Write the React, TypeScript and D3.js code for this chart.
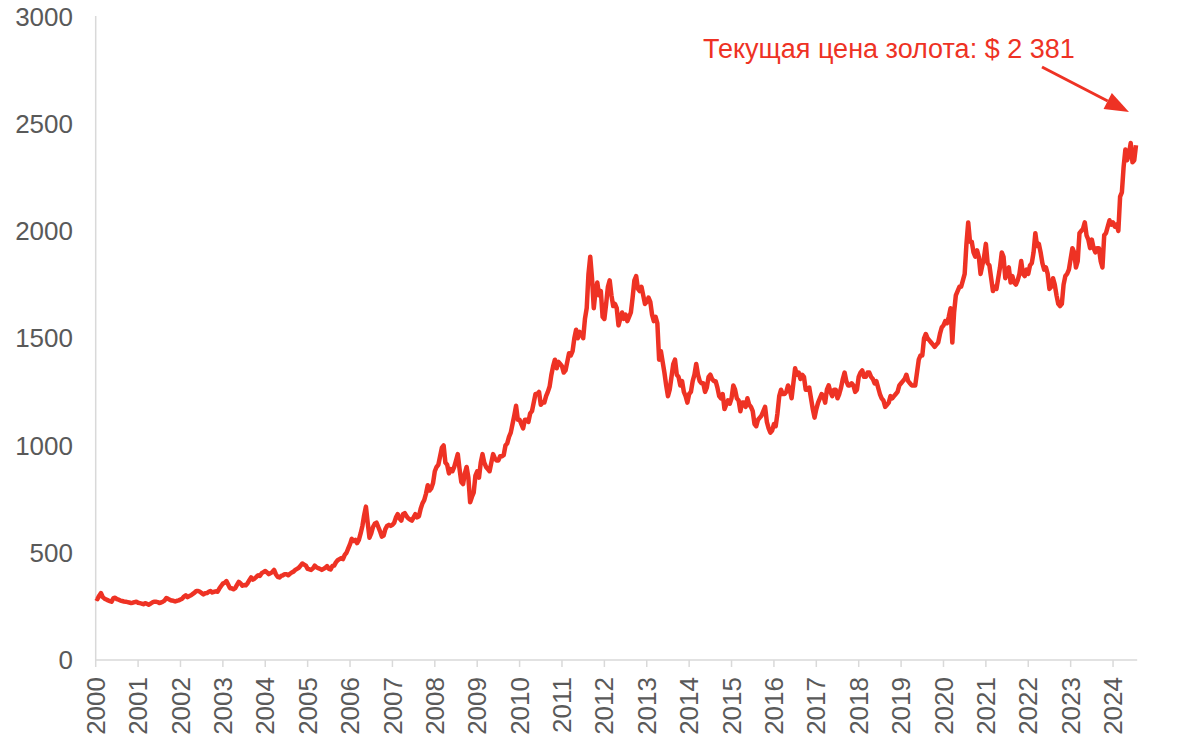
import React from "react";
import * as d3 from "d3";

// Semi-monthly gold price (USD/oz)
const p2000 = [289, 284, 300, 312, 293, 286, 282, 278, 275, 272, 288, 290, 284, 281, 277, 275, 273, 272, 270, 268, 266, 267, 270, 272];
const p2001 = [267, 265, 263, 260, 265, 262, 258, 262, 268, 272, 272, 270, 266, 268, 272, 277, 289, 285, 280, 277, 276, 273, 276, 278];
const p2002 = [282, 286, 296, 302, 293, 298, 302, 308, 314, 322, 322, 318, 312, 306, 311, 312, 318, 322, 315, 318, 320, 318, 333, 345];
const p2003 = [356, 360, 368, 352, 335, 334, 330, 335, 350, 364, 358, 346, 350, 348, 358, 372, 385, 375, 380, 388, 395, 392, 405, 410];
const p2004 = [415, 408, 400, 405, 410, 420, 400, 388, 385, 392, 395, 400, 400, 395, 402, 408, 412, 420, 425, 430, 440, 450, 445, 440];
const p2005 = [425, 423, 420, 427, 440, 432, 428, 425, 420, 425, 430, 438, 425, 422, 438, 440, 455, 465, 470, 475, 470, 490, 500, 520];
const p2006 = [540, 565, 555, 560, 545, 560, 590, 625, 675, 715, 640, 570, 590, 620, 635, 640, 620, 600, 575, 580, 610, 625, 630, 625];
const p2007 = [630, 640, 665, 680, 660, 650, 680, 685, 670, 660, 655, 650, 665, 680, 665, 670, 705, 730, 745, 775, 815, 790, 800, 825];
const p2008 = [880, 900, 910, 950, 990, 1000, 920, 910, 870, 890, 880, 900, 930, 960, 890, 830, 820, 870, 900, 850, 735, 760, 780, 860];
const p2009 = [880, 850, 920, 960, 920, 900, 890, 880, 920, 960, 940, 930, 930, 950, 950, 955, 1000, 1010, 1040, 1060, 1100, 1140, 1185, 1120];
const p2010 = [1120, 1100, 1080, 1120, 1120, 1110, 1150, 1160, 1200, 1240, 1240, 1250, 1190, 1200, 1200, 1230, 1250, 1275, 1330, 1370, 1400, 1360, 1390, 1380];
const p2011 = [1370, 1340, 1350, 1390, 1430, 1420, 1440, 1500, 1540, 1500, 1530, 1520, 1500, 1590, 1640, 1800, 1880, 1780, 1640, 1720, 1760, 1700, 1720, 1600];
const p2012 = [1590, 1660, 1740, 1770, 1700, 1650, 1660, 1640, 1560, 1590, 1620, 1590, 1610, 1580, 1600, 1620, 1690, 1770, 1790, 1730, 1720, 1740, 1700, 1660];
const p2013 = [1670, 1690, 1670, 1610, 1580, 1600, 1570, 1400, 1440, 1390, 1340, 1280, 1230, 1260, 1320, 1380, 1400, 1330, 1320, 1280, 1300, 1250, 1230, 1200];
const p2014 = [1240, 1250, 1300, 1330, 1380, 1330, 1300, 1290, 1290, 1250, 1270, 1320, 1330, 1310, 1300, 1300, 1270, 1230, 1220, 1240, 1170, 1190, 1210, 1195];
const p2015 = [1220, 1280, 1260, 1220, 1210, 1160, 1200, 1200, 1180, 1220, 1190, 1180, 1160, 1100, 1090, 1120, 1130, 1140, 1160, 1180, 1110, 1080, 1060, 1070];
const p2016 = [1100, 1090, 1150, 1230, 1260, 1240, 1240, 1250, 1280, 1260, 1220, 1290, 1360, 1330, 1340, 1310, 1330, 1320, 1260, 1260, 1270, 1220, 1170, 1130];
const p2017 = [1170, 1200, 1220, 1240, 1230, 1200, 1260, 1280, 1250, 1230, 1260, 1260, 1220, 1240, 1270, 1310, 1340, 1300, 1280, 1280, 1290, 1280, 1250, 1260];
const p2018 = [1320, 1340, 1350, 1320, 1320, 1340, 1340, 1320, 1310, 1290, 1300, 1270, 1240, 1220, 1210, 1180, 1190, 1200, 1230, 1220, 1230, 1240, 1250, 1280];
const p2019 = [1290, 1300, 1310, 1330, 1300, 1290, 1280, 1280, 1280, 1340, 1400, 1420, 1420, 1500, 1520, 1500, 1490, 1480, 1470, 1460, 1470, 1480, 1520, 1550];
const p2020 = [1560, 1580, 1570, 1600, 1640, 1480, 1620, 1700, 1720, 1740, 1740, 1770, 1800, 1940, 2040, 1950, 1950, 1900, 1880, 1910, 1880, 1800, 1840, 1880];
const p2021 = [1940, 1850, 1840, 1780, 1720, 1740, 1730, 1780, 1830, 1900, 1880, 1780, 1820, 1830, 1760, 1790, 1760, 1750, 1770, 1800, 1860, 1800, 1790, 1820];
const p2022 = [1800, 1840, 1850, 1900, 1990, 1930, 1940, 1900, 1850, 1820, 1830, 1800, 1730, 1740, 1780, 1750, 1700, 1660, 1650, 1660, 1750, 1790, 1800, 1820];
const p2023 = [1870, 1920, 1900, 1830, 1860, 1990, 2000, 2010, 2040, 1980, 1960, 1920, 1960, 1920, 1900, 1920, 1920, 1860, 1830, 1980, 1990, 2020, 2050, 2030];
const p2024 = [2040, 2020, 2030, 2000, 2160, 2180, 2300, 2380, 2330, 2360, 2410, 2320, 2330, 2400];

const yearStarts = [2000, 2001, 2002, 2003, 2004, 2005, 2006, 2007, 2008, 2009, 2010, 2011, 2012, 2013, 2014, 2015, 2016, 2017, 2018, 2019, 2020, 2021, 2022, 2023, 2024];
const yearSeries = [p2000, p2001, p2002, p2003, p2004, p2005, p2006, p2007, p2008, p2009, p2010, p2011, p2012, p2013, p2014, p2015, p2016, p2017, p2018, p2019, p2020, p2021, p2022, p2023, p2024];
const yTicks = [0, 500, 1000, 1500, 2000, 2500, 3000];
const xTickYears = yearStarts;
const annotationText = "Текущая цена золота: $ 2 381";

const W = 1200;
const H = 752;
const left = 95.7;
const right = 1137.2;
const top = 16;
const bottom = 660;
const xEnd = 2024.57;

export default function App() {
  const data: { t: number; v: number }[] = [];
  yearSeries.forEach((arr, i) => {
    arr.forEach((v, j) => data.push({ t: yearStarts[i] + j / 24, v }));
  });

  const x = d3.scaleLinear().domain([2000, xEnd]).range([left, right]);
  const y = d3.scaleLinear().domain([0, 3000]).range([bottom, top + 0.5]);
  const line = d3
    .line<{ t: number; v: number }>()
    .x((d) => x(d.t))
    .y((d) => y(d.v))
    .curve(d3.curveLinear);

  const axisColor = "#d9d9d9";
  const labelColor = "#595959";
  const red = "#ee3224";
  const font = "'Liberation Sans', Arial, sans-serif";

  // arrow geometry
  const ax1 = 1042, ay1 = 67, ax2 = 1129, ay2 = 112;
  const ang = Math.atan2(ay2 - ay1, ax2 - ax1);
  const headL = 24, headW = 9;
  const bx = ax2 - headL * Math.cos(ang);
  const by = ay2 - headL * Math.sin(ang);
  const px = -Math.sin(ang) * headW;
  const py = Math.cos(ang) * headW;

  return (
    <svg
      width={W}
      height={H}
      style={{ position: "absolute", left: 0, top: 0, background: "#fff" }}
      fontFamily={font}
    >
      {/* axes */}
      <line x1={left} x2={left} y1={top} y2={bottom} stroke={axisColor} strokeWidth={1.5} />
      <line x1={left} x2={right} y1={bottom} y2={bottom} stroke={axisColor} strokeWidth={1.5} />
      {xTickYears.map((yr) => (
        <line key={"t" + yr} x1={x(yr)} x2={x(yr)} y1={bottom} y2={bottom + 7} stroke={axisColor} strokeWidth={1.5} />
      ))}
      {yTicks.map((v) => (
        <text key={"y" + v} x={73} y={y(v)} dy="0.35em" textAnchor="end" fontSize={26} fill={labelColor}>
          {v}
        </text>
      ))}
      {xTickYears.map((yr) => (
        <text
          key={"x" + yr}
          transform={`translate(${x(yr)},${677}) rotate(-90)`}
          dy="0.35em"
          textAnchor="end"
          fontSize={26}
          fill={labelColor}
        >
          {yr}
        </text>
      ))}
      <path d={line(data) || ""} fill="none" stroke={red} strokeWidth={4.5} strokeLinejoin="round" />
      <text x={703} y={58} fontSize={27} fill={red}>
        {annotationText}
      </text>
      <line x1={ax1} y1={ay1} x2={bx} y2={by} stroke={red} strokeWidth={3} />
      <polygon points={`${ax2},${ay2} ${bx + px},${by + py} ${bx - px},${by - py}`} fill={red} />
    </svg>
  );
}
